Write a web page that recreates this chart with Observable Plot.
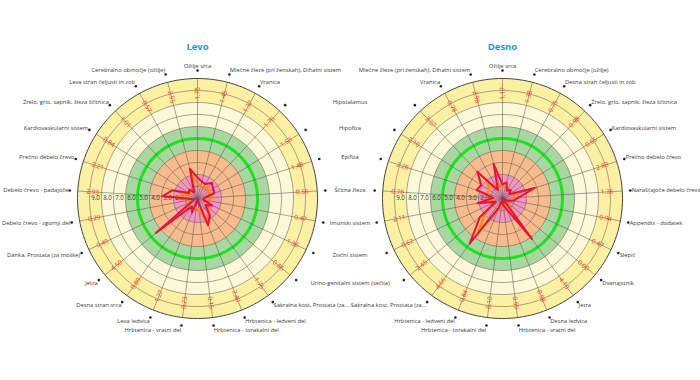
<!DOCTYPE html>
<html><head><meta charset="utf-8">
<script src="https://cdn.jsdelivr.net/npm/d3@7"></script>
<script src="https://cdn.jsdelivr.net/npm/@observablehq/plot@0.6"></script>
<style>body{margin:0;background:#fff;font-family:"Open Sans",sans-serif}</style>
</head><body><div id="chart"></div><script>
// ---------- data ----------
const titles = ["Levo", "Desno"];
const leftCategories = ["Ožilje srca","Mlečne žleze (pri ženskah), Dihalni sistem","Vranica","Hipotalamus","Hipofiza","Epifiza","Ščitna žleza","Imunski sistem","Živčni sistem","Urino-genitalni sistem (sečila)","Sakralna kost, Prostata (za...","Hrbtenica - ledveni del","Hrbtenica - torakalni del","Hrbtenica - vratni del","Leva ledvica","Desna stran srca","Jetra","Danka, Prostata (za moške)","Debelo črevo - zgornji del","Debelo črevo - padajoče","Prečno debelo črevo","Kardiovaskularni sistem","Žrelo, grlo, sapnik, žleza ščitnica","Leva stran čeljusti in zob","Cerebralno območje (ožilje)"];
const leftValues = [1.75,1.45,1.37,1.76,1.53,1.48,0.56,0.47,1.36,0.86,1.75,2.40,0.15,0.23,1.27,0.80,4.50,0.40,0.29,2.93,2.21,0.84,1.01,0.57,2.55];
const leftPrevious = [1.3,1.0,1.1,1.3,1.0,1.2,1.3,0.8,1.0,1.2,1.5,2.1,1.0,0.8,0.8,0.9,1.5,0.8,0.6,1.8,1.2,0.7,0.8,0.9,2.1];
const rightCategories = ["Ožilje srca","Cerebralno območje (ožilje)","Desna stran čeljusti in zob","Žrelo, grlo, sapnik, žleza ščitnica","Kardiovaskularni sistem","Prečno debelo črevo","Naraščajoče debelo črevo","Appendix - dodatek","Slepič","Dvanajstnik","Jetra","Desna ledvica","Hrbtenica - vratni del","Hrbtenica - torakalni del","Hrbtenica - ledveni del","Sakralna kost, Prostata (za...","Urino-genitalni sistem (sečila)","Živčni sistem","Imunski sistem","Ščitna žleza","Epifiza","Hipofiza","Hipotalamus","Vranica","Mlečne žleze (pri ženskah), Dihalni sistem"];
const rightValues = [1.17,1.38,0.73,0.98,0.65,2.83,1.36,0.94,0.47,0.00,4.19,0.98,0.59,0.10,0.84,4.66,2.45,0.62,2.11,0.76,2.26,2.10,3.07,0.78,2.96];
const rightPrevious = [1.0,1.1,0.8,0.9,0.8,1.4,1.2,0.8,0.6,0.4,2.0,1.0,0.8,0.6,1.0,3.5,1.8,0.6,1.5,0.8,1.4,1.3,1.8,0.8,1.3];
const ringTicks = [2,3,4,5,6,7,8,9];

// ---------- layout ----------
const W = 700, H = 380, UNIT = 12;          // px per ring
const LCX = 197, RCX = 502, CY = 198;       // chart centres (px)
const MAXR = 10, FS = 5.8;
const bands = [
  {outer: 10, color: "#fcf0a2"},
  {outer: 8, color: "#fdf9d8"},
  {outer: 6, color: "#a8d7a0"},
  {outer: 4, color: "#f8bb8c"},
  {outer: 2, color: "#f196bd"}
];
const charts = [
  {title: titles[0], cats: leftCategories, vals: leftValues, prev: leftPrevious, cx: 0, side: "left"},
  {title: titles[1], cats: rightCategories, vals: rightValues, prev: rightPrevious, cx: (RCX - LCX) / UNIT, side: "right"}
];
const MIDX = ((LCX + RCX) / 2 - LCX) / UNIT;
const N = 25, STEP = 360 / N, rad = Math.PI / 180;
const pol = (cx, r, deg) => ({x: cx + r * Math.sin(deg * rad), y: r * Math.cos(deg * rad)});
const circle = (cx, r, id) => d3.range(0, 360, 2).map(a => ({...pol(cx, r, a), id}));

const marks = [];
for (const c of charts) {
  for (const b of bands) marks.push(Plot.line(circle(c.cx, b.outer, b.outer), {x: "x", y: "y", fill: b.color, stroke: "none", curve: "linear-closed"}));
  const rings = d3.range(1, 10).flatMap(r => circle(c.cx, r, r));
  marks.push(Plot.line(rings, {x: "x", y: "y", z: "id", stroke: "#555", strokeOpacity: 0.75, strokeWidth: 0.7, curve: "linear-closed"}));
  marks.push(Plot.line(circle(c.cx, MAXR, 10), {x: "x", y: "y", stroke: "#444", strokeWidth: 1, curve: "linear-closed"}));
  marks.push(Plot.line(circle(c.cx, 5, 5), {x: "x", y: "y", stroke: "#1de21d", strokeWidth: 3, curve: "linear-closed"}));
  const spokes = c.cats.map((name, i) => {const o = pol(c.cx, 0, i * STEP), e = pol(c.cx, MAXR, i * STEP); return {x1: o.x, y1: o.y, x2: e.x, y2: e.y};});
  marks.push(Plot.link(spokes, {x1: "x1", y1: "y1", x2: "x2", y2: "y2", stroke: "#555", strokeOpacity: 0.75, strokeWidth: 0.7}));
  marks.push(Plot.text(ringTicks, {x: v => c.cx - (v - 0.5), y: () => 0, text: v => v.toFixed(1), fill: "#333", fontSize: FS + 0.4}));
  const prevPts = c.prev.map((v, i) => pol(c.cx, v, i * STEP));
  const valPts = c.vals.map((v, i) => pol(c.cx, v, i * STEP));
  marks.push(Plot.line(prevPts, {x: "x", y: "y", stroke: "#ff8c00", strokeWidth: 2.2, curve: "linear-closed"}));
  marks.push(Plot.line(valPts, {x: "x", y: "y", stroke: "#e8103c", strokeWidth: 2, curve: "linear-closed"}));
  const vl = c.vals.map((v, i) => {const a = i * STEP; return {...pol(c.cx, 8.75, a), t: v.toFixed(2), rot: a <= 180 ? a - 90 : a - 270};});
  marks.push(Plot.text(vl, {x: "x", y: "y", text: "t", rotate: "rot", fill: "#f0302e", fontSize: FS + 0.6}));
  const dots = c.cats.map((name, i) => pol(c.cx, 10.67, i * STEP));
  marks.push(Plot.dot(dots, {x: "x", y: "y", r: 1.3, fill: "#222"}));
  const labs = c.cats.map((name, i) => {
    const a = i * STEP, s = Math.sin(a * rad), co = Math.cos(a * rad);
    const p = pol(c.cx, 10.67, a);
    let anchor = s > 0.1 ? "start" : s < -0.1 ? "end" : "middle";
    const mid = (c.side === "left" && a > 40 && a < 135) || (c.side === "right" && a > 225 && a < 320);
    if (mid) anchor = "middle";
    return {name, x: mid ? MIDX : p.x + s * 0.12, y: p.y + co * 0.35, anchor, skip: mid && c.side === "right"};
  }).filter(d => !d.skip);
  for (const anc of ["start", "end", "middle"])
    marks.push(Plot.text(labs.filter(d => d.anchor === anc), {x: "x", y: "y", text: "name", textAnchor: anc, fill: "#3a3a3a", fontSize: FS}));
  marks.push(Plot.text([c.title], {x: () => c.cx, y: () => 12.6, text: d => d, fill: "#1a9ad6", fontWeight: "bold", fontSize: 9.5}));
}

const chart = Plot.plot({
  width: W, height: H, margin: 0,
  x: {domain: [-LCX / UNIT, (W - LCX) / UNIT], axis: null},
  y: {domain: [-(H - CY) / UNIT, CY / UNIT], axis: null},
  style: {fontFamily: "'Open Sans', sans-serif", background: "#fff"},
  marks
});
document.getElementById("chart").append(chart);
</script></body></html>
